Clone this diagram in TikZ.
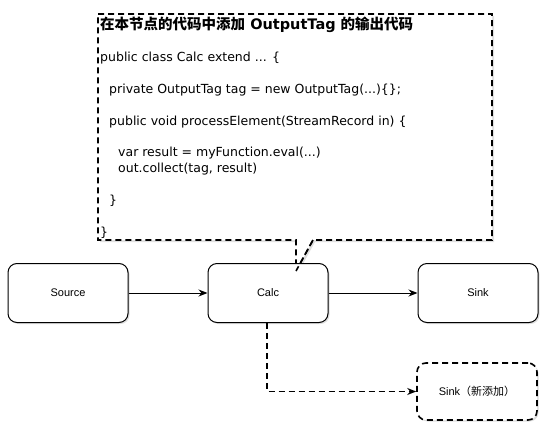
\documentclass[tikz,border=0pt]{standalone}
\usepackage{fontspec}
\setmainfont{Liberation Sans}
\newfontfamily\cjk{Noto Sans CJK SC}
\newfontfamily\codefont{DejaVu Sans}
\usetikzlibrary{arrows.meta,shadows}
\begin{document}
\begin{tikzpicture}[x=1pt,y=-1pt,
  box/.style={draw=black,line width=1pt,fill=white,rounded corners=9pt,
    minimum width=120pt,minimum height=59pt,font=\fontsize{11}{13}\selectfont,
    drop shadow={opacity=0.25,shadow xshift=1.5pt,shadow yshift=-1.5pt}},
  dashbox/.style={box,line width=1.6pt,dash pattern=on 6pt off 4pt},
  conn/.style={draw=black,line width=1pt,-{Stealth[length=9pt,width=7pt]}},
  dconn/.style={conn,line width=1.6pt,dash pattern=on 6pt off 4pt},
  code/.style={anchor=base west,inner sep=0pt,font=\codefont\fontsize{12.5}{14}\selectfont}]
\useasboundingbox (0,0) rectangle (556,439);
% callout
\path[draw=black,fill=white,line width=1.6pt,dash pattern=on 6pt off 4pt,
  drop shadow={opacity=0.25,shadow xshift=2pt,shadow yshift=-2pt}]
  (98,14) -- (492,14) -- (492,240) -- (313,240) -- (296,271) -- (296,240) -- (98,240) -- cycle;
\node[code,font=\codefont\fontsize{14.5}{16}\selectfont\bfseries] (title) at (100,29.5)
  {{\cjk\bfseries 在本节点的代码中添加} OutputTag {\cjk\bfseries 的输出代码}};
\node[code] (l1) at (100,61) {public class Calc extend ... \{};
\node[code] (l2) at (109,93) {private OutputTag tag = new OutputTag(...)\{\};};
\node[code] (l3) at (109,125) {public void processElement(StreamRecord in) \{};
\node[code] (l4) at (118,156) {var result = myFunction.eval(...)};
\node[code] (l5) at (118,172) {out.collect(tag, result)};
\node[code] (l6) at (109,204) {\}};
\node[code] (l7) at (100,236) {\}};
% boxes
\node[box] (source) at (68,293) {Source};
\node[box] (calc) at (268,293) {Calc};
\node[box] (sink) at (478,293) {Sink};
\node[dashbox,minimum height=57pt] (sink2) at (477,391.5) {Sink{\cjk （新添加）}};
\draw[conn] (source) -- (calc);
\draw[conn] (calc) -- (sink);
\draw[dconn] (calc.south -| 267,0) |- (sink2.west);
% tail over calc
\draw[line width=1.6pt,dash pattern=on 6pt off 4pt] (313,240) -- (296,271);
\end{tikzpicture}
\end{document}
